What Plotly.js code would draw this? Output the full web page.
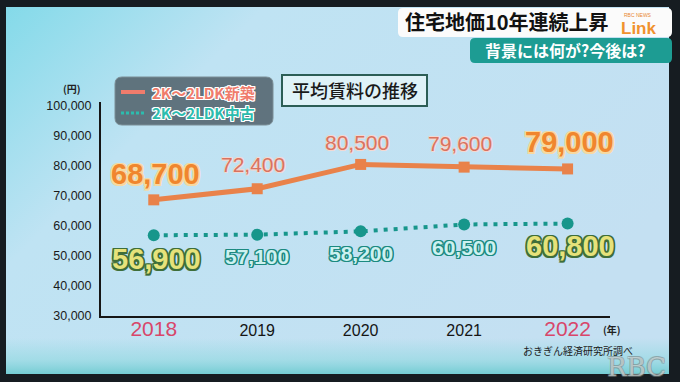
<!DOCTYPE html>
<html>
<head>
<meta charset="utf-8">
<script src="https://cdn.plot.ly/plotly-3.0.1.min.js"></script>
<style>html,body{margin:0;padding:0;background:#141a1f;}#chart{width:680px;height:382px;}</style>
</head>
<body>
<div id="chart"></div>
<script>
// ---- data ----
const years = ['2018', '2019', '2020', '2021', '2022'];
const newBuildRent = [68700, 72400, 80500, 79600, 79000];
const usedRent = [56900, 57100, 58200, 60500, 60800];
const yTickValues = [30000, 40000, 50000, 60000, 70000, 80000, 90000, 100000];
const seriesNames = ['2K〜2LDK新築', '2K〜2LDK中古'];
const chartTitle = '平均賃料の推移';
const headline = '住宅地価10年連続上昇';
const subHeadline = '背景には何が?今後は?';
const sourceNote = 'おきぎん経済研究所調べ';

// ---- geometry helpers ----
const W = 680, H = 382, L = 101, R = 70, T = 102, B = 66;
const PW = W - L - R, PH = H - T - B;
const px = x => (x - L) / PW;
const py = y => 1 - (y - T) / PH;
const fmt = v => v.toLocaleString('en-US');
const outline = (c, w) => {
  const s = [];
  for (const dx of [-w, 0, w]) for (const dy of [-w, 0, w]) if (dx || dy) s.push(`${dx}px ${dy}px 0 ${c}`);
  return s.join(',');
};
function roundRect(x0, y0, x1, y1, r) {
  const P = (x, y) => `${px(x)},${py(y)}`;
  return `M${P(x0 + r, y0)} L${P(x1 - r, y0)} Q${P(x1, y0)} ${P(x1, y0 + r)} L${P(x1, y1 - r)} Q${P(x1, y1)} ${P(x1 - r, y1)} L${P(x0 + r, y1)} Q${P(x0, y1)} ${P(x0, y1 - r)} L${P(x0, y0 + r)} Q${P(x0, y0)} ${P(x0 + r, y0)} Z`;
}

// ---- background image (frame + gradient) ----
const bgSvg = `<svg xmlns="http://www.w3.org/2000/svg" width="680" height="382">
<defs>
<linearGradient id="d" x1="0" y1="0" x2="1" y2="0.55">
<stop offset="0" stop-color="#84dae9"/><stop offset="0.3" stop-color="#bfe3f3"/><stop offset="1" stop-color="#c4e0f2"/>
</linearGradient>
<linearGradient id="b" x1="0" y1="0" x2="0" y2="1">
<stop offset="0" stop-color="#8fd8df" stop-opacity="0"/><stop offset="0.6" stop-color="#8fd8df" stop-opacity="0.6"/><stop offset="1" stop-color="#74ccd3" stop-opacity="1"/>
</linearGradient>
</defs>
<rect width="680" height="382" fill="#161c21"/>
<rect x="6" y="7" width="663" height="367" fill="url(#d)"/>
<rect x="6" y="338" width="663" height="36" fill="url(#b)"/>
</svg>`;
const bgUri = 'data:image/svg+xml;charset=utf-8,' + encodeURIComponent(bgSvg);

// ---- traces ----
const orange = '#e9824a';
const teal = '#17968b';
const traces = [
  {
    x: years, y: newBuildRent, name: seriesNames[0], type: 'scatter', mode: 'lines+markers',
    line: {color: orange, width: 5},
    marker: {symbol: 'square', size: 11, color: orange},
    hoverinfo: 'skip'
  },
  {
    x: years, y: usedRent, name: seriesNames[1], type: 'scatter', mode: 'lines+markers',
    line: {color: teal, width: 4, dash: '4px,6px'},
    marker: {symbol: 'circle', size: 12, color: teal},
    hoverinfo: 'skip'
  }
];

// ---- annotations ----
const ann = [];
const numFont = 'Liberation Sans, Arial, sans-serif';
const jpFont = 'Noto Sans CJK JP, sans-serif';
const newShift = [26, 24, 22, 24, 27];
const usedShift = [-24, -22, -22, -23, -22];
newBuildRent.forEach((v, i) => {
  const big = (i === 0 || i === years.length - 1);
  ann.push({
    x: i, y: v, xref: 'x', yref: 'y', text: fmt(v), showarrow: false,
    yshift: newShift[i], xshift: big ? 2 : -4,
    font: big
      ? {family: numFont, size: 29, weight: 700, color: '#f0862e', shadow: outline('#f7d9a0', 1.5)}
      : {family: numFont, size: 21, color: '#d9735f', shadow: outline('#f2d8d2', 0.6)}
  });
});
usedRent.forEach((v, i) => {
  const big = (i === 0 || i === years.length - 1);
  ann.push({
    x: i, y: v, xref: 'x', yref: 'y', text: fmt(v), showarrow: false,
    yshift: usedShift[i], xshift: big ? 3 : 0,
    font: big
      ? {family: numFont, size: 29, weight: 700, color: '#e6e27a', shadow: outline('#3e6e3a', 1.5)}
      : {family: numFont, size: 21, weight: 700, color: '#cdf1f0', shadow: outline('#1c8a80', 1.2)}
  });
});

// legend (custom)
ann.push({xref: 'paper', yref: 'paper', x: px(150), y: py(92), xanchor: 'left', yanchor: 'middle', showarrow: false,
  text: seriesNames[0], font: {family: jpFont, size: 15, weight: 700, color: '#f07c6c', shadow: outline('#ffffff', 1)}});
ann.push({xref: 'paper', yref: 'paper', x: px(150), y: py(113), xanchor: 'left', yanchor: 'middle', showarrow: false,
  text: seriesNames[1], font: {family: jpFont, size: 15, weight: 700, color: '#2cbcae', shadow: outline('#ffffff', 1)}});
// chart title box
ann.push({xref: 'paper', yref: 'paper', x: px(354.5), y: py(90.5), xanchor: 'center', yanchor: 'middle', showarrow: false,
  text: chartTitle, font: {family: jpFont, size: 18, weight: 500, color: '#1a1a1a'}});
// units
ann.push({xref: 'paper', yref: 'paper', x: px(72), y: py(88), xanchor: 'center', yanchor: 'middle', showarrow: false,
  text: '(円)', font: {family: jpFont, size: 10, weight: 700, color: '#222'}});
ann.push({xref: 'paper', yref: 'paper', x: px(612), y: py(329), xanchor: 'center', yanchor: 'middle', showarrow: false,
  text: '(年)', font: {family: jpFont, size: 10, weight: 700, color: '#222'}});
// source
ann.push({xref: 'paper', yref: 'paper', x: px(578), y: py(350), xanchor: 'center', yanchor: 'middle', showarrow: false,
  text: sourceNote, font: {family: jpFont, size: 10, color: '#1a1a1a'}});
// headline overlays
ann.push({xref: 'paper', yref: 'paper', x: px(403), y: py(22), xanchor: 'left', yanchor: 'middle', showarrow: false,
  text: headline, font: {family: jpFont, size: 20, weight: 700, color: '#111'}});
ann.push({xref: 'paper', yref: 'paper', x: px(483), y: py(50), xanchor: 'left', yanchor: 'middle', showarrow: false,
  text: subHeadline, font: {family: jpFont, size: 16, weight: 700, color: '#ffffff'}});
ann.push({xref: 'paper', yref: 'paper', x: px(638), y: py(15), xanchor: 'center', yanchor: 'middle', showarrow: false,
  text: 'RBC NEWS', font: {family: numFont, size: 5, color: '#e9862e'}});
ann.push({xref: 'paper', yref: 'paper', x: px(638), y: py(28), xanchor: 'center', yanchor: 'middle', showarrow: false,
  text: 'Link', font: {family: numFont, size: 17, weight: 700, color: '#f0922e'}});
// watermark
ann.push({xref: 'paper', yref: 'paper', x: px(636), y: py(367), xanchor: 'center', yanchor: 'middle', showarrow: false,
  text: 'RBC', font: {family: 'DejaVu Serif, serif', size: 26, color: 'rgba(235,245,245,0.55)', shadow: outline('rgba(120,130,130,0.5)', 0.8)}});

// ---- shapes ----
const shapes = [
  {type: 'path', xref: 'paper', yref: 'paper', path: roundRect(398, 8, 672, 37, 5), fillcolor: '#fbfbfb', line: {width: 0}, layer: 'above'},
  {type: 'path', xref: 'paper', yref: 'paper', path: roundRect(470, 38, 672, 63, 5), fillcolor: '#1d9c93', line: {width: 0}, layer: 'above'},
  {type: 'path', xref: 'paper', yref: 'paper', path: roundRect(115, 77, 273, 125, 7), fillcolor: 'rgba(88,106,116,0.93)', line: {color: '#7b8e96', width: 1}, layer: 'above'},
  {type: 'line', xref: 'paper', yref: 'paper', x0: px(121), x1: px(145), y0: py(92), y1: py(92), line: {color: '#f07c6c', width: 4}, layer: 'above'},
  {type: 'line', xref: 'paper', yref: 'paper', x0: px(121), x1: px(145), y0: py(113), y1: py(113), line: {color: '#2cbcae', width: 3, dash: '3px,2px'}, layer: 'above'},
  {type: 'rect', xref: 'paper', yref: 'paper', x0: px(282), x1: px(427), y0: py(75), y1: py(106), fillcolor: 'rgba(226,244,248,0.9)', line: {color: '#2c5e56', width: 2}, layer: 'above'}
];

// ---- tick labels ----
const xTickText = years.map((y, i) =>
  (i === 0 || i === years.length - 1)
    ? `<span style="fill:#d8466a;font-size:21px">${y}</span>`
    : y);

const layout = {
  width: W, height: H,
  margin: {l: L, r: R, t: T, b: B, pad: 0},
  paper_bgcolor: '#161c21',
  plot_bgcolor: 'rgba(0,0,0,0)',
  showlegend: false,
  font: {family: numFont, color: '#1a1a1a'},
  xaxis: {
    type: 'category', range: [-0.51, 4.41], showgrid: false, zeroline: false,
    showline: true, linecolor: '#161616', linewidth: 2, ticks: '',
    tickvals: years, ticktext: xTickText,
    tickfont: {family: numFont, size: 16, color: '#151515'},
    ticklabelstandoff: -1, fixedrange: true
  },
  yaxis: {
    range: [30000, 101300], showgrid: false, zeroline: false,
    showline: true, linecolor: '#161616', linewidth: 2, ticks: '',
    tickvals: yTickValues, ticktext: yTickValues.map(fmt),
    tickfont: {family: numFont, size: 12.5, color: '#1a1a1a'},
    ticklabelstandoff: 5, fixedrange: true
  },
  images: [{source: bgUri, xref: 'paper', yref: 'paper', x: px(0), y: py(0), sizex: W / PW, sizey: H / PH,
    xanchor: 'left', yanchor: 'top', sizing: 'stretch', layer: 'below'}],
  shapes: shapes,
  annotations: ann
};

Plotly.newPlot('chart', traces, layout, {displayModeBar: false, staticPlot: true});
</script>
</body>
</html>
